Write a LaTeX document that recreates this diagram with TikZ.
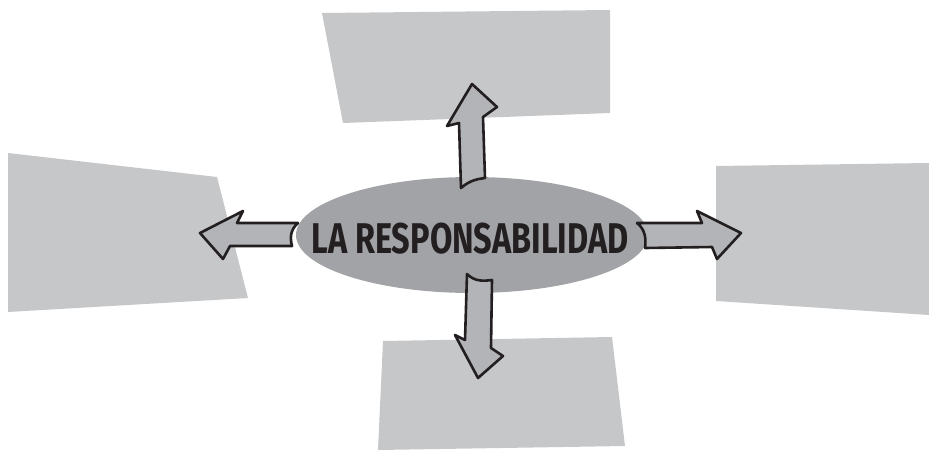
\documentclass[tikz,border=0pt]{standalone}
\usepackage{fontspec}
\setmainfont{Fira Sans}
\usetikzlibrary{shapes.geometric}
\definecolor{boxgray}{HTML}{C6C7C9}
\definecolor{ellgray}{HTML}{A2A3A6}
\definecolor{arrgray}{HTML}{B3B4B7}
\definecolor{ink}{HTML}{231F20}
\tikzset{
  panel/.style={fill=boxgray, draw=none},
  fatarrow/.style={fill=arrgray, draw=ink, line width=2.6pt, line join=round},
  centre/.style={ellipse, fill=ellgray, draw=none, minimum width=352pt, minimum height=116pt, inner sep=0pt},
  label/.style={text=ink, font=\fontsize{43}{43}\selectfont\bfseries}
}
\begin{document}
\begin{tikzpicture}[x=1pt,y=-1pt]
\useasboundingbox (0,0) rectangle (929,450);
% panels
\path[panel] (322,13) -- (610,10) -- (610,113) -- (343,123) -- cycle;
\path[panel] (8,153) -- (217,177) -- (248,298) -- (8,312) -- cycle;
\path[panel] (716,166) -- (929,163) -- (929,315) -- (716,301) -- cycle;
\path[panel] (383,341) -- (612,337) -- (625,446) -- (378,450) -- cycle;
% centre ellipse
\node[centre] (c) at (472,235) {};
% arrows
\draw[fatarrow] (461,188) .. controls (470,180) and (478,179) .. (485,178)
  -- (483,117) -- (497,107) -- (472,84) -- (447,126) -- (459,123) -- cycle;
\draw[fatarrow] (467,274) .. controls (475,282) and (484,281) .. (492,280)
  -- (491,348) -- (503,356) -- (478,378) -- (455,335) -- (465,340) -- cycle;
\draw[fatarrow] (298,223) .. controls (290,230) and (290,238) .. (292,246)
  -- (230,246) -- (223,259) -- (200,233) -- (243,211) -- (237,223) -- cycle;
\draw[fatarrow] (637,223) .. controls (646,230) and (646,240) .. (645,248)
  -- (712,247) -- (717,259) -- (741,233) -- (697,211) -- (702,223) -- cycle;
% label
\node[label] (t) at (470,239) {\scalebox{0.755}[1]{LA RESPONSABILIDAD}};
\end{tikzpicture}
\end{document}
